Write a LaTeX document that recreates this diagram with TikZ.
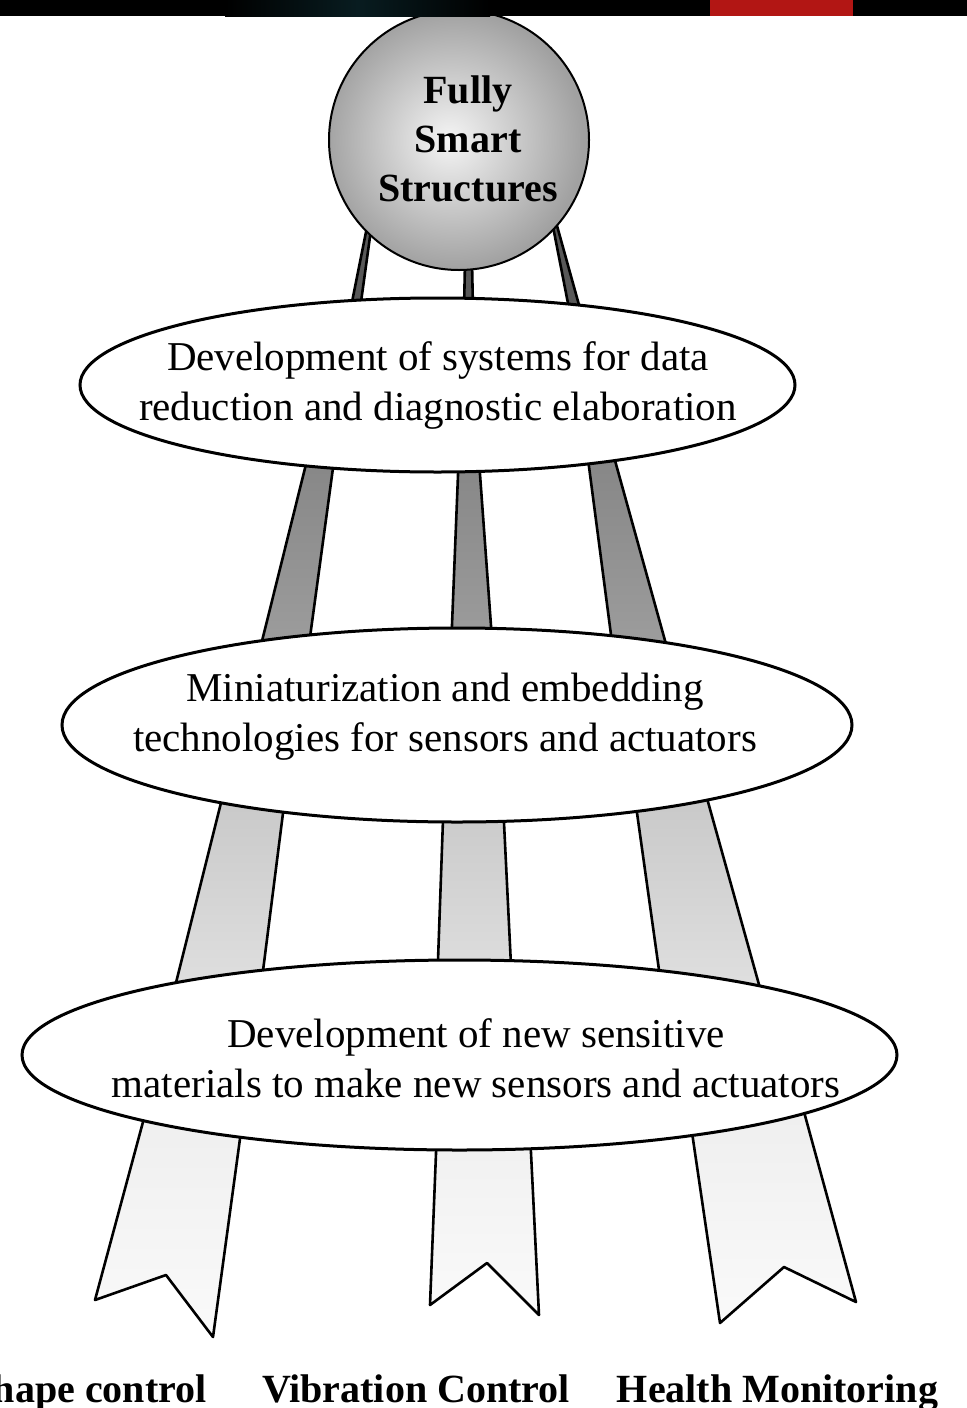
\documentclass[tikz,border=0pt]{standalone}
\usepackage{fontspec}
\setmainfont{Liberation Serif}
\usetikzlibrary{shapes.geometric,backgrounds}
\definecolor{barred}{RGB}{178,22,20}
\definecolor{barteal}{RGB}{8,28,32}
% soft grey ball for the top node
\pgfdeclareradialshading{sphereshade}{\pgfpoint{-2bp}{0bp}}{color(0bp)=(black!4); color(25bp)=(black!37); color(50bp)=(black!37)}

\begin{document}
\begin{tikzpicture}[x=0.5pt,y=-0.5pt,
  stage/.style={ellipse,draw,line width=1.5pt,fill=white,inner sep=0pt,outer sep=0pt},
  stagetext/.style={align=center,font=\fontsize{20.5}{25}\selectfont},
  goal/.style={inner sep=0pt,font=\fontsize{20}{25}\selectfont\bfseries},
  strap/.style={draw,line width=1.3pt,line join=round}]
\useasboundingbox (0,0) rectangle (967,1408);
\clip (0,0) rectangle (967,1408);

\node[circle,draw,line width=1pt,minimum size=130pt,inner sep=0pt,outer sep=0pt,shading=sphereshade] (sphere) at (459,140) {};
\node[align=center,font=\fontsize{20}{24.5}\selectfont\bfseries] (spheretext) at (468,139) {Fully\\Smart\\Structures};

\node[stage,minimum width=357.5pt,minimum height=87pt] (diag) at (437.5,385) {};
\node[stagetext] (diagtext) at (438,385) {Development of systems for data\\reduction and diagnostic elaboration};

\node[stage,minimum width=395pt,minimum height=97pt] (mini) at (457,725) {};
\node[stagetext] (minitext) at (445,717) {Miniaturization and embedding\\technologies for sensors and actuators};

\node[stage,minimum width=437.5pt,minimum height=95pt] (matl) at (459.5,1055) {};
\node[stagetext] (matltext) at (476,1058) {Development of new sensitive\\materials to make new sensors and actuators};

% outcomes
\node[goal,anchor=base east] (shape) at (207,1402) {Shape control};
\node[goal,anchor=base] (vib) at (416,1402) {Vibration Control};
\node[goal,anchor=base] (health) at (777.5,1402) {Health Monitoring};

\begin{scope}[on background layer]
% legs under the ball
\draw[strap,fill=black!65] ([shift={(-90.6,80)}]sphere.center) -- ([shift={(-87.1,-75)}]diag.center)
  -- ([shift={(-77.6,-75)}]diag.center) -- ([shift={(-86.7,80)}]sphere.center) -- cycle;
\draw[strap,fill=black!65] ([shift={(6,122)}]sphere.center) -- ([shift={(26.5,-75)}]diag.center)
  -- ([shift={(35.5,-75)}]diag.center) -- ([shift={(13,122)}]sphere.center) -- cycle;
\draw[strap,fill=black!65] ([shift={(92.7,80)}]sphere.center) -- ([shift={(131.8,-75)}]diag.center)
  -- ([shift={(142.9,-75)}]diag.center) -- ([shift={(96.4,80)}]sphere.center) -- cycle;
% first row of straps
\draw[strap,top color=black!48,bottom color=black!38] ([shift={(-125.5,55)}]diag.center) -- ([shift={(-199.7,-65)}]mini.center)
  -- ([shift={(-150.1,-65)}]mini.center) -- ([shift={(-100.7,55)}]diag.center) -- cycle;
\draw[strap,top color=black!48,bottom color=black!38] ([shift={(21.9,55)}]diag.center) -- ([shift={(-6.4,-65)}]mini.center)
  -- ([shift={(36.5,-65)}]mini.center) -- ([shift={(40,55)}]diag.center) -- cycle;
\draw[strap,top color=black!48,bottom color=black!38] ([shift={(148,55)}]diag.center) -- ([shift={(157.3,-65)}]mini.center)
  -- ([shift={(213.4,-65)}]mini.center) -- ([shift={(171.8,55)}]diag.center) -- cycle;
% second row
\draw[strap,top color=black!22,bottom color=black!12] ([shift={(-230.3,55)}]mini.center) -- ([shift={(-287.8,-55)}]matl.center)
  -- ([shift={(-200.2,-55)}]matl.center) -- ([shift={(-169.8,55)}]mini.center) -- cycle;
\draw[strap,top color=black!22,bottom color=black!12] ([shift={(-12.6,55)}]mini.center) -- ([shift={(-22.9,-55)}]matl.center)
  -- ([shift={(53.2,-55)}]matl.center) -- ([shift={(44.9,55)}]mini.center) -- cycle;
\draw[strap,top color=black!22,bottom color=black!12] ([shift={(175.4,55)}]mini.center) -- ([shift={(203.7,-55)}]matl.center)
  -- ([shift={(303.8,-55)}]matl.center) -- ([shift={(244.9,55)}]mini.center) -- cycle;
% ribbons
\draw[strap,top color=black!7,bottom color=black!2] ([shift={(-305.2,25)}]matl.center)
  -- ++(-59.3,220) -- ++(71,-25) -- ++(47,62) -- ([shift={(-211.5,25)}]matl.center) -- cycle;
\draw[strap,top color=black!7,bottom color=black!2] ([shift={(-20.6,25)}]matl.center)
  -- ++(-8.9,225) -- ++(57,-42) -- ++(52,52) -- ([shift={(67.9,25)}]matl.center) -- cycle;
\draw[strap,top color=black!7,bottom color=black!2] ([shift={(224.8,25)}]matl.center)
  -- ++(35.7,243) -- ++(64,-56) -- ++(72,35) -- ([shift={(335.8,25)}]matl.center) -- cycle;
\end{scope}

% bar along the top edge
\fill (0,0) rectangle (967,16);
\shade[left color=black,right color=black,middle color=barteal] (225,0) rectangle (490,16);
\fill[barred] (710,0) rectangle (853,16);
\end{tikzpicture}
\end{document}
